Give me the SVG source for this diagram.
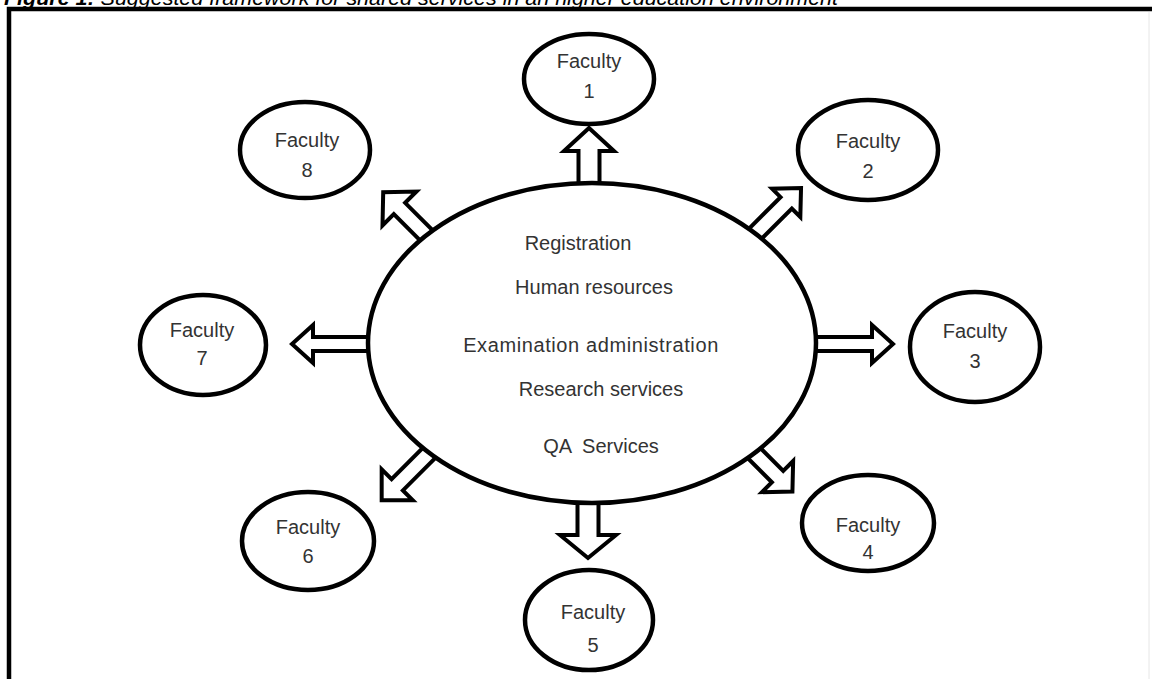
<svg xmlns="http://www.w3.org/2000/svg" width="1152" height="679" viewBox="0 0 1152 679">
<style>
.node{fill:#fff;stroke:#000;stroke-width:4.5}
.lbl{font-family:"Liberation Sans",Arial,sans-serif;font-size:20px;fill:#333;text-anchor:middle}
.arr{fill:#fff;stroke:#000;stroke-width:4;stroke-linejoin:miter}
.title{font-family:"Liberation Sans",Arial,sans-serif;font-size:20px;font-style:italic;fill:#000}
</style>
<rect width="1152" height="679" fill="#fff"/>
<text class="title" x="4" y="5" textLength="834" lengthAdjust="spacingAndGlyphs"><tspan font-weight="bold">Figure 1:</tspan> Suggested framework for shared services in an higher education environment</text>
<path d="M9,679 L9,9 L1152,9" fill="none" stroke="#000" stroke-width="4.5"/>
<line x1="1149" y1="12" x2="1149" y2="679" stroke="#e6e6e6" stroke-width="1"/>
<g id="connectors">
<path class="arr" transform="translate(589,192) rotate(-90)" d="M0,-10.5 L41,-10.5 L41,-25 L64,0 L41,25 L41,10.5 L0,10.5 Z"/>
<path class="arr" transform="translate(588,496) rotate(90)" d="M0,-10.5 L39,-10.5 L39,-28 L62,0 L39,28 L39,10.5 L0,10.5 Z"/>
<path class="arr" transform="translate(374,344) rotate(180)" d="M0,-7 L61,-7 L61,-19 L82,0 L61,19 L61,7 L0,7 Z"/>
<path class="arr" transform="translate(810,344)" d="M0,-7 L62,-7 L62,-19 L83,0 L62,19 L62,7 L0,7 Z"/>
<path class="arr" transform="translate(748,241) rotate(-45)" d="M0,-8 L54,-8 L54,-20 L75,0 L54,20 L54,8 L0,8 Z"/>
<path class="arr" transform="translate(432,241) rotate(-135)" d="M0,-8 L46,-8 L46,-24 L69,0 L46,24 L46,8 L0,8 Z"/>
<path class="arr" transform="translate(434,448) rotate(135)" d="M0,-8 L52,-8 L52,-22 L74,0 L52,22 L52,8 L0,8 Z"/>
<path class="arr" transform="translate(750,449) rotate(45)" d="M0,-8 L39,-8 L39,-22 L60,0 L39,22 L39,8 L0,8 Z"/>
</g>
<g id="center">
<ellipse class="node" cx="592" cy="343" rx="224" ry="160"/>
<text class="lbl" x="578" y="250">Registration</text>
<text class="lbl" x="594" y="294">Human resources</text>
<text class="lbl" x="591" y="352" letter-spacing="0.6">Examination  administration</text>
<text class="lbl" x="601" y="396">Research services</text>
<text class="lbl" x="601" y="453" xml:space="preserve">QA  Services</text>
</g>
<g id="faculty1"><ellipse class="node" cx="589" cy="79" rx="65" ry="45"/><text class="lbl" x="589" y="68">Faculty</text><text class="lbl" x="589" y="98">1</text></g>
<g id="faculty2"><ellipse class="node" cx="868" cy="150" rx="70" ry="50"/><text class="lbl" x="868" y="148">Faculty</text><text class="lbl" x="868" y="178">2</text></g>
<g id="faculty3"><ellipse class="node" cx="975" cy="347" rx="65" ry="55"/><text class="lbl" x="975" y="338">Faculty</text><text class="lbl" x="975" y="368">3</text></g>
<g id="faculty4"><ellipse class="node" cx="868" cy="523" rx="66" ry="48"/><text class="lbl" x="868" y="532">Faculty</text><text class="lbl" x="868" y="559">4</text></g>
<g id="faculty5"><ellipse class="node" cx="589" cy="620" rx="64" ry="50"/><text class="lbl" x="593" y="619">Faculty</text><text class="lbl" x="593" y="652">5</text></g>
<g id="faculty6"><ellipse class="node" cx="308" cy="541" rx="66" ry="49"/><text class="lbl" x="308" y="534">Faculty</text><text class="lbl" x="308" y="563">6</text></g>
<g id="faculty7"><ellipse class="node" cx="203" cy="345" rx="63" ry="50"/><text class="lbl" x="202" y="337">Faculty</text><text class="lbl" x="202" y="365">7</text></g>
<g id="faculty8"><ellipse class="node" cx="305" cy="150" rx="65" ry="48"/><text class="lbl" x="307" y="147">Faculty</text><text class="lbl" x="307" y="177">8</text></g>
</svg>
